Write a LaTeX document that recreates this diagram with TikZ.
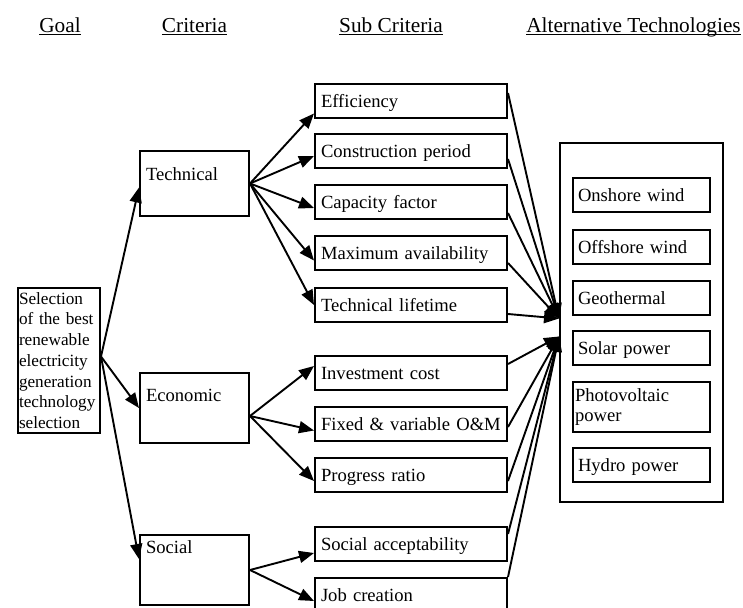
\documentclass[tikz,border=0pt]{standalone}
\usepackage{fontspec}
\setmainfont{Liberation Serif}
\usetikzlibrary{arrows.meta}
\tikzset{
  head/.style   ={font=\fontsize{21.3}{25}\selectfont, inner sep=0pt, anchor=base},
  uline/.style  ={line width=1.3pt},
  goalbox/.style={draw, line width=2pt, anchor=north west, text width=80pt, inner xsep=1pt,
                  inner ysep=0pt, minimum height=145pt, align=left, font=\fontsize{17.2}{20.7}\selectfont},
  critbox/.style 2 args={draw, line width=2pt, anchor=north west, text width=97pt, inner xsep=6pt,
                  inner ysep=0pt, align=left, text height=#1, text depth=#2, font=\fontsize{18.6}{21}\selectfont},
  subbox/.style ={draw, line width=2pt, anchor=north west, text width=180pt, inner xsep=6pt,
                  minimum height=34pt, align=left, text height=14pt, text depth=2pt, font=\fontsize{18.6}{21}\selectfont},
  altbox/.style ={draw, line width=2pt, anchor=north west, text width=127pt, inner xsep=5pt,
                  minimum height=34pt, align=left, text height=14pt, text depth=2pt, font=\fontsize{18.6}{21}\selectfont},
  conn/.style   ={line width=1.9pt, -{Triangle[length=15pt,width=12pt]}},
}
\begin{document}
\begin{tikzpicture}[x=1pt,y=-1pt]
  \useasboundingbox (0,0) rectangle (743,607);
  % column headings
  \node[head] (hgoal) at (60,32.5)    {Goal};
  \node[head] (hcrit) at (194.5,32.5) {Criteria};
  \node[head] (hsub)  at (391,32.5)   {Sub Criteria};
  \node[head] (halt)  at (633.5,32.5) {Alternative Technologies};
  \foreach \h in {hgoal,hcrit,hsub,halt}
    \draw[uline] ([yshift=-1.8pt]\h.base west) -- ([yshift=-1.8pt]\h.base east);
  % goal and criteria
  \node[goalbox] (goal) at (17,287) {Selection of the best renewable electricity generation technology selection};
  \node[critbox={29pt}{36pt}]     (tech) at (139,150) {Technical};
  \node[critbox={28pt}{42pt}]     (econ) at (139,372) {Economic};
  \node[critbox={18.7pt}{51.3pt}] (soc)  at (139,534) {Social};
  % sub criteria
  \node[subbox] (eff) at (314,83)  {Efficiency};
  \node[subbox] (con) at (314,133) {Construction period};
  \node[subbox] (cap) at (314,184) {Capacity factor};
  \node[subbox] (mav) at (314,235) {Maximum availability};
  \node[subbox] (tl)  at (314,287) {Technical lifetime};
  \node[subbox] (inv) at (314,355) {Investment cost};
  \node[subbox] (fix) at (314,406) {Fixed \& variable O\&M};
  \node[subbox] (pro) at (314,457) {Progress ratio};
  \node[subbox] (sa)  at (314,526) {Social acceptability};
  \node[subbox] (job) at (314,577) {Job creation};
  % alternatives
  \node[draw, line width=2pt, anchor=north west, inner sep=0pt, minimum width=163pt,
        minimum height=359pt] (alt) at (559,142) {};
  \node[altbox] (on)  at (572,177) {Onshore wind};
  \node[altbox] (off) at (572,229) {Offshore wind};
  \node[altbox] (geo) at (572,280) {Geothermal};
  \node[altbox] (sol) at (572,330) {Solar power};
  \node[altbox, text width=133pt, inner xsep=2pt, minimum height=50pt, text height={}, text depth={},
        font=\fontsize{18.6}{20}\selectfont] (pv) at (572,381) {Photovoltaic\\power};
  \node[altbox] (hyd) at (572,447) {Hydro power};
  \coordinate (hubA) at ([yshift=4pt]alt.west);
  \coordinate (hubB) at ([yshift=-14pt]alt.west);
  % goal -> criteria
  \draw[conn] ([yshift=4pt]goal.east) -- ([yshift=-4pt]tech.west);
  \draw[conn] ([yshift=4pt]goal.east) -- (econ.west);
  \draw[conn] ([yshift=4pt]goal.east) -- ([yshift=11pt]soc.west);
  % criteria -> sub criteria
  \foreach \n/\s in {eff/-12.5,con/-5,cap/-6,mav/-7.5,tl/0}
    \draw[conn] (tech.east) -- ([yshift=\s pt]\n.west);
  \foreach \n/\s in {inv/7,fix/-6.5,pro/-6}
    \draw[conn] ([yshift=-8pt]econ.east) -- ([yshift=\s pt]\n.west);
  \foreach \n/\s in {sa/-9,job/-6}
    \draw[conn] (soc.east) -- ([yshift=\s pt]\n.west);
  % sub criteria -> alternatives
  \foreach \n/\s in {eff/8,con/-8,cap/-11,mav/-10,tl/-9}
    \draw[conn] ([yshift=\s pt]\n.east) -- (hubA);
  \foreach \n/\s in {inv/9,fix/-3,pro/-6,sa/10}
    \draw[conn] ([yshift=\s pt]\n.east) -- (hubB);
  \draw[conn] (job.north east) -- (hubB);
\end{tikzpicture}
\end{document}
